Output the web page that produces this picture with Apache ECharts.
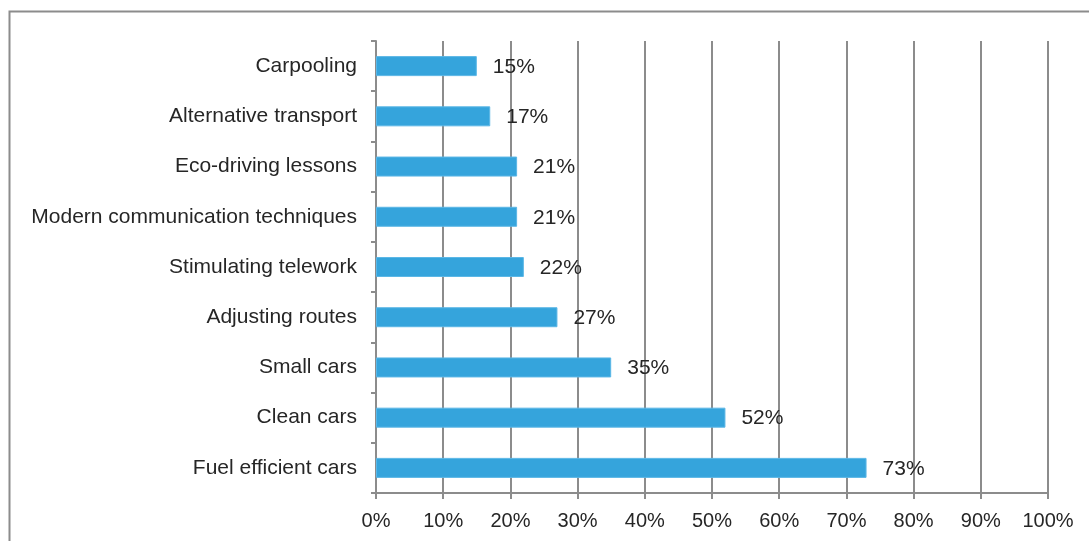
<!DOCTYPE html>
<html>
<head>
<meta charset="utf-8">
<script src="https://cdn.jsdelivr.net/npm/echarts@6/dist/echarts.min.js"></script>
<style>
  html, body { margin: 0; padding: 0; background: #fff; }
  #chart { width: 1089px; height: 541px; }
</style>
</head>
<body>
<div id="chart"></div>
<script>
// Measures, listed bottom-to-top as the category axis draws them
const categories = [
  'Fuel efficient cars',
  'Clean cars',
  'Small cars',
  'Adjusting routes',
  'Stimulating telework',
  'Modern communication techniques',
  'Eco-driving lessons',
  'Alternative transport',
  'Carpooling'
];
const shares = [73, 52, 35, 27, 22, 21, 21, 17, 15];
const tickValues = [0, 10, 20, 30, 40, 50, 60, 70, 80, 90, 100];

const FONT = '"Liberation Sans", Arial, sans-serif';
const GRAY = '#8c8c8c';
const TEXT = '#262626';

const chart = echarts.init(document.getElementById('chart'), null, { renderer: 'canvas' });

chart.setOption({
  animation: false,
  backgroundColor: '#fff',
  graphic: [{
    type: 'rect',
    shape: { x: 9.5, y: 11.5, width: 1200, height: 700 },
    style: { fill: 'none', stroke: GRAY, lineWidth: 2 },
    silent: true,
    z: 0
  }],
  grid: { left: 376, right: 41, top: 41, bottom: 48, containLabel: false },
  xAxis: {
    type: 'value',
    min: tickValues[0],
    max: tickValues[tickValues.length - 1],
    interval: 10,
    axisLine: { show: true, lineStyle: { color: GRAY, width: 2 } },
    axisTick: { show: true, length: 6, lineStyle: { color: GRAY, width: 2 } },
    splitLine: { show: true, lineStyle: { color: GRAY, width: 2 } },
    axisLabel: {
      formatter: v => v + '%',
      color: TEXT,
      fontFamily: FONT,
      fontSize: 20,
      margin: 18
    }
  },
  yAxis: {
    type: 'category',
    data: categories,
    axisLine: { show: true, lineStyle: { color: GRAY, width: 2 } },
    axisTick: { show: true, length: 5, lineStyle: { color: GRAY, width: 2 } },
    axisLabel: {
      color: TEXT,
      fontFamily: FONT,
      fontSize: 21,
      margin: 19
    }
  },
  series: [{
    type: 'bar',
    data: shares,
    barWidth: 20,
    itemStyle: { color: '#35a4dc', borderColor: '#5bb7e6', borderWidth: 1 },
    label: {
      show: true,
      position: 'right',
      distance: 16,
      offset: [0, 1],
      formatter: p => p.value + '%',
      color: TEXT,
      fontFamily: FONT,
      fontSize: 21
    },
    z: 3
  }]
});
</script>
</body>
</html>
